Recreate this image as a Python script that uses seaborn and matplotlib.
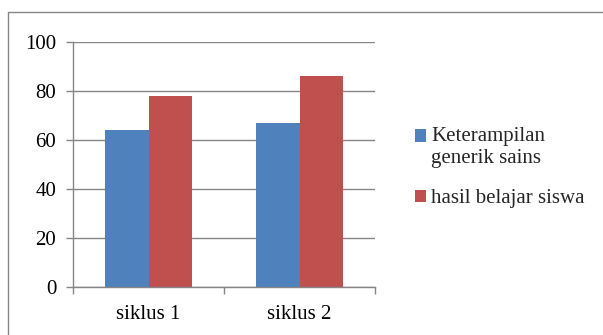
import matplotlib
matplotlib.use("Agg")
import matplotlib.pyplot as plt
import seaborn as sns
import pandas as pd
from matplotlib.lines import Line2D
from matplotlib.patches import Patch, Rectangle
from matplotlib.legend_handler import HandlerPatch

categories = ["siklus 1", "siklus 2"]
series_names = ["Keterampilan\ngenerik sains", "hasil belajar siswa"]
keterampilan = [64, 67]
hasil = [78, 86]
yticks = [0, 20, 40, 60, 80, 100]
colors = ["#4F81BD", "#C0504D"]

df = pd.DataFrame({
    "cat": categories * 2,
    "series": [series_names[0]] * 2 + [series_names[1]] * 2,
    "value": keterampilan + hasil,
})

sns.set_theme(style="white")
plt.rcParams["font.family"] = ["Liberation Serif", "DejaVu Serif"]
FS = 15

fig = plt.figure(figsize=(6.03, 3.35), dpi=100)
ax = fig.add_axes([73/603, 1 - 287/335, (375-73)/603, (287-42)/335])

sns.barplot(data=df, x="cat", y="value", hue="series", palette=colors,
            width=0.57, saturation=1, ax=ax, legend=False, edgecolor="none")

ax.set_ylim(0, 100)
ax.set_xlim(-0.5, 1.5)
ax.set_yticks(yticks)
ax.set_yticklabels([str(v) for v in yticks], fontsize=FS)
ax.set_xticks([0, 1])
ax.set_xticklabels(categories, fontsize=FS)
ax.set_xlabel("")
ax.set_ylabel("")
ax.yaxis.grid(True, color="#868686", linewidth=1)
ax.set_axisbelow(True)
for s in ["top", "right"]:
    ax.spines[s].set_visible(False)
for s in ["left", "bottom"]:
    ax.spines[s].set_color("#868686")
    ax.spines[s].set_linewidth(1)
ax.tick_params(axis="y", which="major", length=5, color="#868686", width=1,
               direction="out", left=True, pad=7, labelcolor="black")
ax.tick_params(axis="x", which="major", length=0, pad=13, labelcolor="black")
ax.set_xticks([-0.5, 0.5, 1.5], minor=True)
ax.tick_params(axis="x", which="minor", length=5, color="#868686", width=1,
               direction="out", bottom=True)


class ShiftedPatchHandler(HandlerPatch):
    def __init__(self, dy=0.0, **kw):
        super().__init__(**kw)
        self.dy = dy

    def create_artists(self, legend, orig_handle, xdescent, ydescent,
                       width, height, fontsize, trans):
        p = Rectangle((-xdescent, -ydescent + self.dy), width, height,
                      facecolor=orig_handle.get_facecolor(), edgecolor="none",
                      transform=trans)
        return [p]


handles = [Patch(facecolor=c, edgecolor="none") for c in colors]
fig.legend(handles, series_names, loc="upper left",
           bbox_to_anchor=(415/603, 1 - 127/335), frameon=False,
           fontsize=FS, handlelength=0.53, handleheight=0.53,
           handletextpad=0.25, labelspacing=1.04, borderaxespad=0,
           borderpad=0,
           handler_map={handles[0]: ShiftedPatchHandler(dy=8.3),
                        handles[1]: ShiftedPatchHandler(dy=0)})

fig.add_artist(Line2D([8/603, 8/603, 1], [0, 1 - 12/335, 1 - 12/335],
                      transform=fig.transFigure, color="#868686", linewidth=1))

fig.savefig("out.png", dpi=100)
